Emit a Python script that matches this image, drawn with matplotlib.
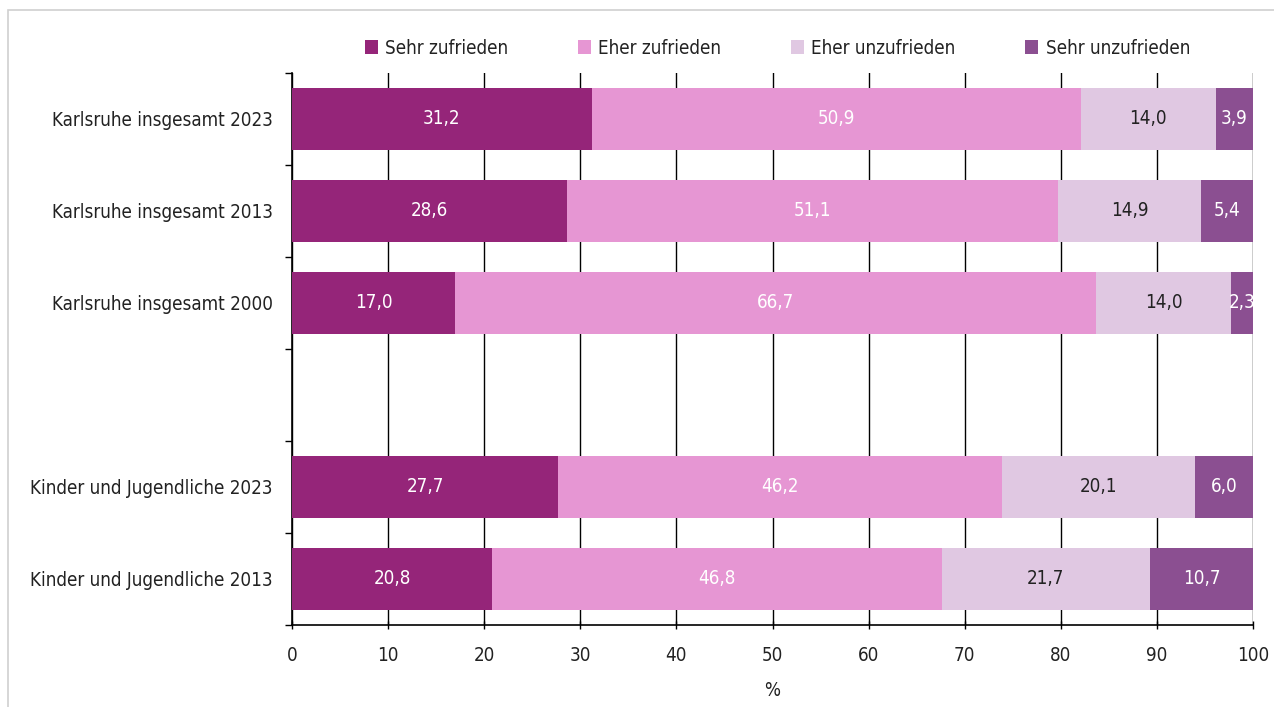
import matplotlib
matplotlib.use("Agg")
import matplotlib.pyplot as plt
from matplotlib.patches import Rectangle
import numpy as np

plt.rcParams['font.family'] = ['DejaVu Sans']
plt.rcParams['font.stretch'] = 'condensed'

categories = ["Karlsruhe insgesamt 2023", "Karlsruhe insgesamt 2013", "Karlsruhe insgesamt 2000",
              "", "Kinder und Jugendliche 2023", "Kinder und Jugendliche 2013"]
series = ["Sehr zufrieden", "Eher zufrieden", "Eher unzufrieden", "Sehr unzufrieden"]
sehr_zufrieden = [31.2, 28.6, 17.0, None, 27.7, 20.8]
eher_zufrieden = [50.9, 51.1, 66.7, None, 46.2, 46.8]
eher_unzufrieden = [14.0, 14.9, 14.0, None, 20.1, 21.7]
sehr_unzufrieden = [3.9, 5.4, 2.3, None, 6.0, 10.7]

colors = ["#952579", "#e696d3", "#e0c8e2", "#8b4f91"]
text_colors = ["white", "white", "#222222", "white"]
fs = 13.5

fig = plt.figure(figsize=(12.74, 7.07), dpi=100)
ax = fig.add_axes([292 / 1274, 1 - 625 / 707, (1253 - 292) / 1274, (625 - 73) / 707])

# light frame of the figure
fig.add_artist(Rectangle((8 / 1274, -0.1), 1.2, 1 - 10 / 707 + 0.1, transform=fig.transFigure,
                         fill=False, edgecolor="#d0d0d0", linewidth=1.2))

data = [sehr_zufrieden, eher_zufrieden, eher_unzufrieden, sehr_unzufrieden]
y = np.arange(len(categories)) + 0.5
left = np.zeros(len(categories))
for vals, name, col, tcol in zip(data, series, colors, text_colors):
    v = np.array([0 if x is None else x for x in vals])
    ax.barh(y, v, left=left, height=0.67, color=col, label=name, zorder=3)
    for yi, (l, w, raw) in enumerate(zip(left, v, vals)):
        if raw is None:
            continue
        ax.text(l + w / 2, y[yi], f"{raw:.1f}".replace(".", ","), ha="center", va="center",
                color=tcol, fontsize=fs, zorder=4, clip_on=True)
    left = left + v

ax.set_xlim(0, 100)
ax.set_ylim(6, 0)
ax.set_xticks(np.arange(0, 101, 10))
ax.set_yticks(np.arange(0, 7))
ax.set_yticks(y, categories, minor=True)
ax.set_yticklabels([])
ax.tick_params(axis="y", which="minor", length=0, labelsize=fs, pad=14, labelcolor="#222222")
ax.tick_params(axis="y", which="major", length=5, width=1, color="black")
ax.tick_params(axis="x", length=6, width=1, direction="inout", labelsize=fs, pad=12, labelcolor="#222222")
ax.grid(axis="x", color="black", linewidth=1, zorder=1)
ax.set_axisbelow(True)
for s in ["top", "right"]:
    ax.spines[s].set_visible(False)
for s in ["left", "bottom"]:
    ax.spines[s].set_linewidth(1.2)
ax.set_xlabel("%", fontsize=fs, labelpad=12, color="#222222")

ax.legend(loc="center", bbox_to_anchor=(0.505, (707 - 48 - (707 - 625)) / (625 - 73)), ncol=4,
          frameon=False, fontsize=fs, handlelength=0.7, handleheight=0.7, handletextpad=0.4,
          columnspacing=3.7, labelcolor="#222222")

fig.savefig("out.png", dpi=100)
